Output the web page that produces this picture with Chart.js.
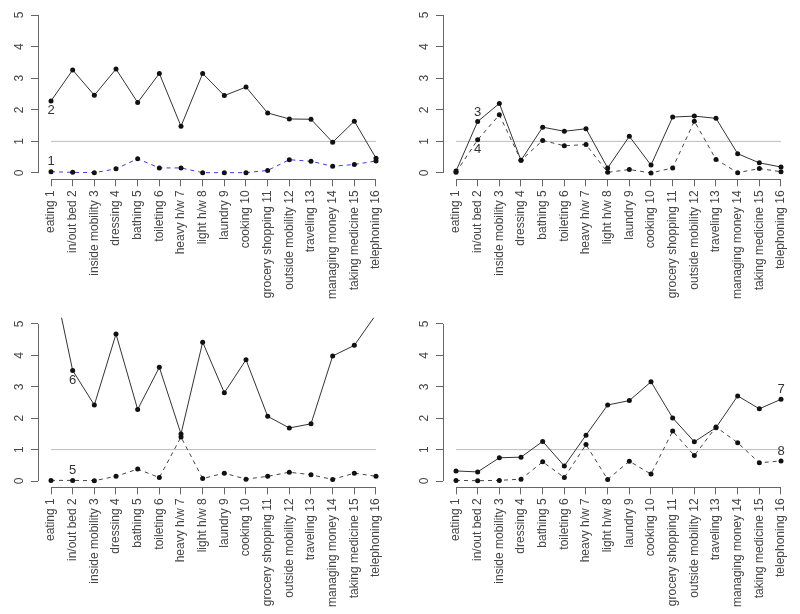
<!DOCTYPE html>
<html>
<head>
<meta charset="utf-8">
<script src="https://cdn.jsdelivr.net/npm/chart.js@4.4.0/dist/chart.umd.min.js"></script>
<style>
  body { margin: 0; background: #ffffff; }
  .panel { position: absolute; width: 400px; height: 307px; }
</style>
</head>
<body>
<div class="panel" style="left:0;top:0"><canvas id="p1" width="400" height="307"></canvas></div>
<div class="panel" style="left:400px;top:0"><canvas id="p2" width="400" height="307"></canvas></div>
<div class="panel" style="left:0;top:307px"><canvas id="p3" width="400" height="307"></canvas></div>
<div class="panel" style="left:400px;top:307px"><canvas id="p4" width="400" height="307"></canvas></div>
<script>
const categories = ['eating 1', 'in/out bed 2', 'inside mobility 3', 'dressing 4', 'bathing 5',
  'toileting 6', 'heavy h/w 7', 'light h/w 8', 'laundry 9', 'cooking 10', 'grocery shopping 11',
  'outside mobility 12', 'traveling 13', 'managing money 14', 'taking medicine 15', 'telephoning 16'];
const yTicks = [0, 1, 2, 3, 4, 5];
const refLevel = 1;

// panel 1 (top left)
const series1 = [0.04, 0.02, 0.01, 0.13, 0.45, 0.16, 0.16, 0.01, 0.01, 0.01, 0.08, 0.42, 0.37, 0.21, 0.27, 0.38];
const series2 = [2.28, 3.26, 2.46, 3.29, 2.23, 3.15, 1.48, 3.15, 2.45, 2.72, 1.90, 1.71, 1.70, 0.97, 1.64, 0.47];
// panel 2 (top right)
const series3 = [0.06, 1.63, 2.20, 0.40, 1.45, 1.32, 1.40, 0.16, 1.16, 0.25, 1.77, 1.80, 1.73, 0.61, 0.32, 0.19];
const series4 = [0.02, 1.05, 1.84, 0.40, 1.03, 0.86, 0.90, 0.02, 0.11, 0.00, 0.16, 1.64, 0.43, 0.01, 0.14, 0.04];
// panel 3 (bottom left)
const series5 = [0.02, 0.02, 0.01, 0.15, 0.38, 0.11, 1.40, 0.08, 0.25, 0.06, 0.15, 0.28, 0.20, 0.05, 0.25, 0.15];
const series6 = [6.80, 3.52, 2.42, 4.68, 2.28, 3.62, 1.50, 4.42, 2.81, 3.86, 2.06, 1.69, 1.82, 3.98, 4.32, 5.30];
// panel 4 (bottom right)
const series7 = [0.32, 0.29, 0.74, 0.76, 1.26, 0.48, 1.46, 2.42, 2.56, 3.16, 2.01, 1.25, 1.70, 2.71, 2.30, 2.60];
const series8 = [0.02, 0.01, 0.02, 0.06, 0.61, 0.11, 1.16, 0.05, 0.63, 0.22, 1.59, 0.81, 1.72, 1.22, 0.58, 0.64];

const FONT = "'Liberation Sans', Arial, sans-serif";
const TEXT = '#444444';

function toPoints(arr) {
  return arr.map((v, i) => ({ x: i + 1, y: v }));
}

// axis lines over the tick range only, rotated y labels, series number tags
const rAxes = {
  id: 'rAxes',
  afterDraw(chart) {
    const c = chart.ctx, xs = chart.scales.x, ys = chart.scales.y;
    c.save();
    c.strokeStyle = '#666666';
    c.lineWidth = 1;
    c.beginPath();
    const ax = Math.round(xs.left) + 0.5;
    c.moveTo(ax, ys.getPixelForValue(yTicks[0]));
    c.lineTo(ax, ys.getPixelForValue(yTicks[yTicks.length - 1]));
    const ay = Math.round(ys.bottom) + 0.5;
    c.moveTo(xs.getPixelForValue(1), ay);
    c.lineTo(xs.getPixelForValue(categories.length), ay);
    c.stroke();

    c.fillStyle = TEXT;
    c.font = '12px ' + FONT;
    c.textAlign = 'center';
    c.textBaseline = 'middle';
    yTicks.forEach(v => {
      c.save();
      c.translate(xs.left - 18.5, ys.getPixelForValue(v));
      c.rotate(-Math.PI / 2);
      c.fillText(String(v), 0, 0);
      c.restore();
    });

    c.fillStyle = '#333333';
    c.font = '13px ' + FONT;
    chart.options.plugins.rAxes.tags.forEach(t => {
      const px = xs.getPixelForValue(t.idx + 1);
      const py = ys.getPixelForValue(t.data[t.idx]) + t.dy;
      c.fillText(t.text, px, py);
    });
    c.restore();
  }
};

function makePanel(id, solid, dashed, dashColor, tags, box) {
  new Chart(document.getElementById(id), {
    type: 'line',
    data: {
      datasets: [
        {
          data: toPoints(solid),
          borderColor: '#333333',
          borderWidth: 1,
          pointRadius: 2.5,
          pointBackgroundColor: '#111111',
          pointBorderWidth: 0,
          tension: 0
        },
        {
          data: toPoints(dashed),
          borderColor: dashColor,
          borderWidth: 1,
          borderDash: [4, 4],
          pointRadius: 2.5,
          pointBackgroundColor: '#111111',
          pointBorderWidth: 0,
          tension: 0
        },
        {
          data: [{ x: 1, y: refLevel }, { x: categories.length, y: refLevel }],
          borderColor: '#bbbbbb',
          borderWidth: 1,
          pointRadius: 0
        }
      ]
    },
    options: {
      responsive: false,
      animation: false,
      events: [],
      layout: { padding: { top: box.top, right: 400 - box.right, left: 0, bottom: 0 } },
      plugins: {
        legend: { display: false },
        tooltip: { enabled: false },
        rAxes: { tags: tags }
      },
      scales: {
        x: {
          type: 'linear',
          min: 0.4,
          max: categories.length + 0.6,
          afterBuildTicks: s => { s.ticks = categories.map((c, i) => ({ value: i + 1 })); },
          afterFit: s => { s.height = 307 - box.bottom; },
          border: { display: false },
          grid: { drawOnChartArea: false, drawTicks: true, tickLength: 7, color: '#666666' },
          ticks: {
            autoSkip: false,
            minRotation: 90,
            maxRotation: 90,
            padding: 4,
            color: TEXT,
            font: { family: FONT, size: 12 },
            callback: v => categories[v - 1]
          }
        },
        y: {
          min: -0.2,
          max: 5.2,
          afterBuildTicks: s => { s.ticks = yTicks.map(v => ({ value: v })); },
          afterFit: s => { s.width = box.left; },
          border: { display: false },
          grid: { drawOnChartArea: false, drawTicks: true, tickLength: 7, color: '#666666' },
          ticks: { display: false }
        }
      }
    },
    plugins: [rAxes]
  });
}

makePanel('p1', series2, series1, '#3a3aee',
  [{ text: '2', data: series2, idx: 0, dy: 9 }, { text: '1', data: series1, idx: 0, dy: -10 }],
  { left: 38, right: 389, top: 8.7, bottom: 179.3 });
makePanel('p2', series3, series4, '#444444',
  [{ text: '3', data: series3, idx: 1, dy: -9 }, { text: '4', data: series4, idx: 1, dy: 10 }],
  { left: 43, right: 394, top: 8.7, bottom: 179.3 });
makePanel('p3', series6, series5, '#444444',
  [{ text: '6', data: series6, idx: 1, dy: 10 }, { text: '5', data: series5, idx: 1, dy: -10 }],
  { left: 38, right: 389, top: 10.7, bottom: 180.3 });
makePanel('p4', series7, series8, '#444444',
  [{ text: '7', data: series7, idx: 15, dy: -10 }, { text: '8', data: series8, idx: 15, dy: -9 }],
  { left: 43, right: 394, top: 10.7, bottom: 180.3 });
</script>
</body>
</html>
